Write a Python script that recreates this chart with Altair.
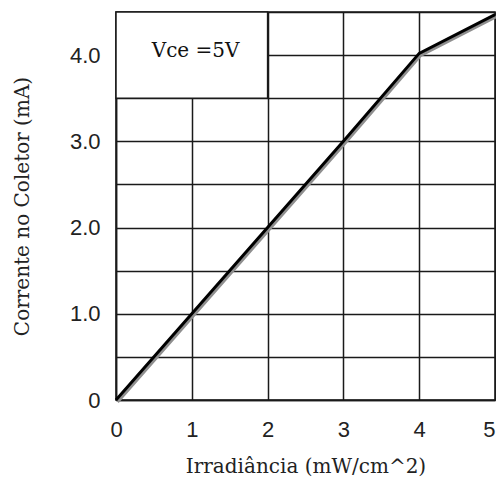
import altair as alt
import pandas as pd

# data
irradiance = [0, 1, 2, 3, 4, 5]
current = [0.0, 1.0, 2.0, 3.0, 4.02, 4.47]
x_ticks = [0, 1, 2, 3, 4, 5]
y_grid = [0, 0.5, 1.0, 1.5, 2.0, 2.5, 3.0, 3.5, 4.0, 4.5]
note_text = ["Vce =5V"]
note_x = [1.05]
note_y = [4.05]
box_x = [0]
box_x2 = [2]
box_y = [3.5]
box_y2 = [4.5]

df = pd.DataFrame({"x": irradiance, "y": current})
box_df = pd.DataFrame({"x": box_x, "x2": box_x2, "y": box_y, "y2": box_y2})
note_df = pd.DataFrame({"x": note_x, "y": note_y, "t": note_text})

GRID = "#1a1a1a"
LBL = "#222222"
SANS = "Liberation Sans"
SERIF = "DejaVu Serif"

xs = alt.Scale(domain=[0, 5], nice=False, zero=False)
ys = alt.Scale(domain=[0, 4.5], nice=False, zero=False)

xaxis = alt.Axis(
    values=x_ticks, grid=True, gridColor=GRID, gridWidth=1.5, gridOpacity=1,
    ticks=False, tickSize=0, domainColor=GRID, domainWidth=1.5,
    labelFont=SANS, labelFontSize=22, labelColor=LBL, labelPadding=19,
    labelFlush=False, labelBaseline="top",
    labelAlign=alt.expr("datum.value == 5 ? 'right' : 'center'"),
    title="Irradiância (mW/cm^2)", titleFont=SERIF, titleFontSize=20,
    titleFontWeight="normal", titleColor=LBL, titleY=72, titleBaseline="alphabetic",
)
yaxis = alt.Axis(
    values=y_grid, grid=True, gridColor=GRID, gridWidth=1.5, gridOpacity=1,
    ticks=False, tickSize=0, domainColor=GRID, domainWidth=1.5,
    labelFont=SANS, labelFontSize=22, labelColor=LBL, labelPadding=16,
    labelFlush=False, labelBaseline="middle",
    labelExpr="datum.value == 0 ? '0' : (datum.value % 1 == 0 ? format(datum.value, '.1f') : '')",
    title="Corrente no Coletor (mA)", titleFont=SERIF, titleFontSize=20,
    titleFontWeight="normal", titleColor=LBL, titleX=-104, titleBaseline="top",
)

X = alt.X("x:Q", scale=xs, axis=xaxis)
Y = alt.Y("y:Q", scale=ys, axis=yaxis)

shadow = alt.Chart(df).mark_line(color="#8f8f8f", strokeWidth=3, xOffset=1.6, yOffset=2.0).encode(x=X, y=Y)
line = alt.Chart(df).mark_line(color="#000000", strokeWidth=3).encode(x=X, y=Y)

box = alt.Chart(box_df).mark_rect(fill="white", stroke=GRID, strokeWidth=1.5).encode(
    x=X, x2="x2:Q", y=Y, y2="y2:Q"
)
note = alt.Chart(note_df).mark_text(font=SERIF, fontSize=20, color="#111", align="center", baseline="middle").encode(
    x=X, y=Y, text="t:N"
)

chart = alt.layer(box, note, shadow, line).properties(
    width=379, height=388,
    autosize=alt.AutoSizeParams(type="none"),
    padding={"left": 108, "top": 4, "right": 1, "bottom": 78},
    background="white",
).configure_view(stroke=GRID, strokeWidth=1.5)

chart.save("out.html", embed_options={"renderer": "svg", "actions": False})
